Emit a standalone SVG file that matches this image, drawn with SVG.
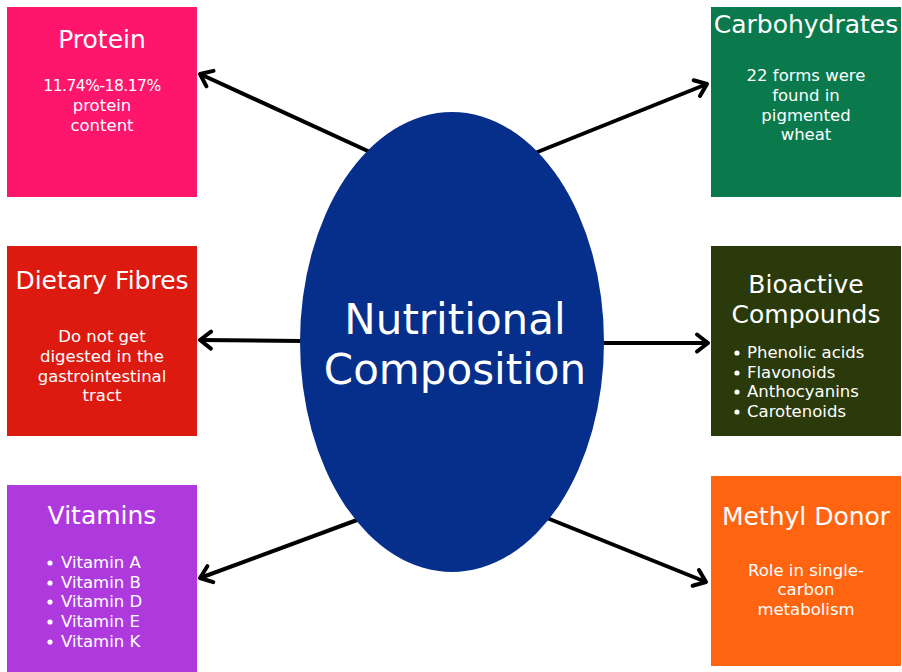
<svg xmlns="http://www.w3.org/2000/svg" width="902" height="672" viewBox="0 0 902 672">
  <defs>
    <marker id="chevron" markerUnits="userSpaceOnUse" viewBox="-14 -10 18 20" refX="0" refY="0" markerWidth="18" markerHeight="20" orient="auto" overflow="visible">
      <path d="M-11,-8.5 L0,0 L-11,8.5" fill="none" stroke="#000" stroke-width="4" stroke-linecap="round" stroke-linejoin="round"/>
    </marker>
    <style>
      .title { font-family: "DejaVu Sans", "Open Sans", sans-serif; font-size: 25px; fill: #fff; text-anchor: middle; }
      .body { font-family: "DejaVu Sans", "Open Sans", sans-serif; font-size: 16.5px; fill: #fff; text-anchor: middle; }
      .figure { font-size: 15.5px; letter-spacing: -0.5px; }
      .item { font-family: "DejaVu Sans", "Open Sans", sans-serif; font-size: 16.5px; fill: #fff; }
      .dot { fill: #fff; }
      .center { font-family: "DejaVu Sans", "Open Sans", sans-serif; font-size: 42px; fill: #fff; text-anchor: middle; }
      .link { stroke: #000; stroke-width: 4; fill: none; marker-end: url(#chevron); }
    </style>
  </defs>
  <rect width="902" height="672" fill="#fff"/>

  <!-- connectors from the hub out to each category -->
  <g id="connectors">
    <line class="link" x1="370" y1="152" x2="200" y2="74"/>
    <line class="link" x1="535" y1="153" x2="707" y2="84"/>
    <line class="link" x1="301" y1="341" x2="200" y2="340"/>
    <line class="link" x1="603" y1="343" x2="708" y2="343"/>
    <line class="link" x1="357" y1="520" x2="200" y2="578"/>
    <line class="link" x1="547" y1="518" x2="706" y2="582"/>
  </g>

  <!-- hub -->
  <g id="hub">
    <ellipse cx="452" cy="342" rx="152" ry="230" fill="#062f8c"/>
    <text class="center" x="455" y="334">Nutritional</text>
    <text class="center" x="455" y="384">Composition</text>
  </g>

  <g id="protein">
    <rect x="7" y="7" width="190" height="190" fill="#fe156c"/>
    <text class="title" x="102" y="48">Protein</text>
    <text class="body figure" x="102" y="91">11.74%-18.17%</text>
    <text class="body" x="102" y="111">protein</text>
    <text class="body" x="102" y="131">content</text>
  </g>

  <g id="dietary-fibres">
    <rect x="7" y="246" width="190" height="190" fill="#dd1a10"/>
    <text class="title" x="102" y="289">Dietary Fibres</text>
    <text class="body" x="102" y="342">Do not get</text>
    <text class="body" x="102" y="362">digested in the</text>
    <text class="body" x="102" y="382">gastrointestinal</text>
    <text class="body" x="102" y="401">tract</text>
  </g>

  <g id="vitamins">
    <rect x="7" y="485" width="190" height="190" fill="#ae3ade"/>
    <text class="title" x="102" y="524">Vitamins</text>
    <circle class="dot" cx="50" cy="563" r="2.6"/><text class="item" x="61" y="568">Vitamin A</text>
    <circle class="dot" cx="50" cy="583" r="2.6"/><text class="item" x="61" y="588">Vitamin B</text>
    <circle class="dot" cx="50" cy="602" r="2.6"/><text class="item" x="61" y="607">Vitamin D</text>
    <circle class="dot" cx="50" cy="622" r="2.6"/><text class="item" x="61" y="627">Vitamin E</text>
    <circle class="dot" cx="50" cy="642" r="2.6"/><text class="item" x="61" y="647">Vitamin K</text>
  </g>

  <g id="carbohydrates">
    <rect x="711" y="7" width="190" height="190" fill="#0a7a4c"/>
    <text class="title" x="806" y="33">Carbohydrates</text>
    <text class="body" x="806" y="81">22 forms were</text>
    <text class="body" x="806" y="101">found in</text>
    <text class="body" x="806" y="121">pigmented</text>
    <text class="body" x="806" y="140">wheat</text>
  </g>

  <g id="bioactive-compounds">
    <rect x="711" y="246" width="190" height="190" fill="#2b3a0b"/>
    <text class="title" x="806" y="293">Bioactive</text>
    <text class="title" x="806" y="323">Compounds</text>
    <circle class="dot" cx="737" cy="353" r="2.6"/><text class="item" x="747" y="358">Phenolic acids</text>
    <circle class="dot" cx="737" cy="373" r="2.6"/><text class="item" x="747" y="378">Flavonoids</text>
    <circle class="dot" cx="737" cy="392" r="2.6"/><text class="item" x="747" y="397">Anthocyanins</text>
    <circle class="dot" cx="737" cy="412" r="2.6"/><text class="item" x="747" y="417">Carotenoids</text>
  </g>

  <g id="methyl-donor">
    <rect x="711" y="476" width="190" height="190" fill="#ff6510"/>
    <text class="title" x="806" y="525">Methyl Donor</text>
    <text class="body" x="806" y="576">Role in single-</text>
    <text class="body" x="806" y="595">carbon</text>
    <text class="body" x="806" y="615">metabolism</text>
  </g>
</svg>
